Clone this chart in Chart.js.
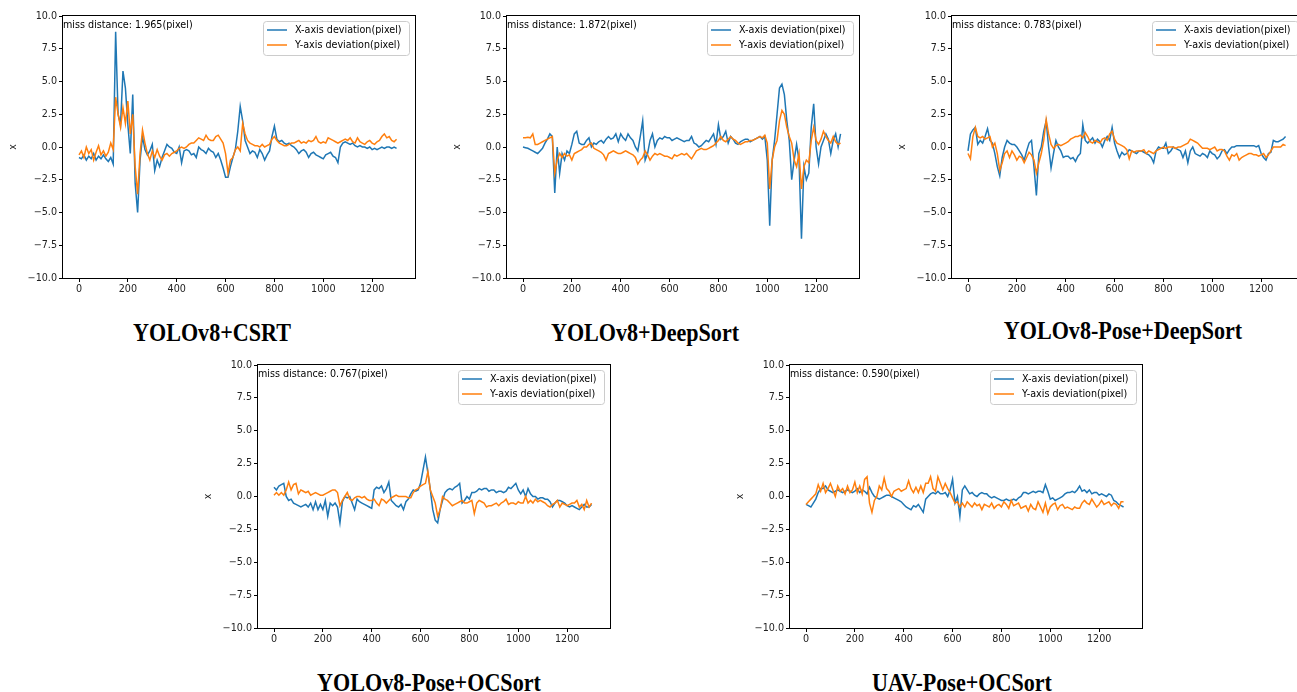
<!DOCTYPE html>
<html lang="en">
<head>
    <meta charset="UTF-8">
    <title>Deviation plots</title>
    <style>
        body {
            margin: 0;
            width: 1297px;
            height: 692px;
            overflow: hidden;
            position: relative;
            background: #fff;
        }
        canvas {
            position: absolute;
        }
        .caption {
            position: absolute;
            width: 400px;
            text-align: center;
            font-family: 'Liberation Serif', 'Times New Roman', serif;
            font-weight: bold;
            font-size: 26px;
            line-height: 26px;
            color: #000;
            transform: scaleX(0.85);
        }
    </style>
</head>
<body>
    <canvas id="c1"></canvas>
    <canvas id="c2"></canvas>
    <canvas id="c3"></canvas>
    <canvas id="c4"></canvas>
    <canvas id="c5"></canvas>
    <div id="captions"></div>

    <script src="https://cdn.jsdelivr.net/npm/chart.js"></script>
    <script>
        // frame index (x axis), one sample every 10 frames
        const frames = Array.from({ length: 131 }, (_, i) => i * 10);
        const xTicks = [0, 200, 400, 600, 800, 1000, 1200];
        const yTicks = [-10, -7.5, -5, -2.5, 0, 2.5, 5, 7.5, 10];

        const titles = ['YOLOv8+CSRT', 'YOLOv8+DeepSort', 'YOLOv8-Pose+DeepSort', 'YOLOv8-Pose+OCSort', 'UAV-Pose+OCSort'];
        const missDistance = ['1.965', '1.872', '0.783', '0.767', '0.590'];
        const seriesNames = ['X-axis deviation(pixel)', 'Y-axis deviation(pixel)'];

        // YOLOv8+CSRT
        const devX1 = [
            -0.8,-0.9,-0.6,-1.0,-0.7,-0.9,-0.5,-1.0,-0.7,-0.9,
            -0.6,-0.9,-1.1,-0.8,-1.3,8.8,2.5,1.7,5.8,4.5,
            1.7,-0.5,4.0,-2.8,-5.0,-1.0,0.8,-0.2,-0.6,-0.3,
            0.2,-1.8,-1.0,-1.5,-0.8,-0.3,0.2,0.0,-0.1,-0.4,
            -0.5,0.0,-1.2,-0.3,-0.2,-0.3,-0.6,-0.5,-0.8,0.0,
            -0.2,-0.3,-0.5,-0.1,-0.3,-0.4,-0.8,-0.5,-1.0,-1.6,
            -2.3,-2.3,-1.5,-0.8,-0.2,1.2,3.1,2.0,0.5,0.0,
            -0.5,-0.3,-0.4,-0.8,-0.2,-0.5,-1.0,-0.6,-0.3,0.8,
            1.6,0.6,0.4,0.5,0.3,0.2,0.3,0.1,0.0,-0.2,
            -0.5,-0.3,-0.2,-0.4,-0.8,-0.5,-0.4,-0.6,-0.7,-0.8,
            -0.9,-0.6,-0.5,-0.4,-0.7,-0.8,-1.2,0.0,0.3,0.4,
            0.3,0.2,0.3,0.1,0.0,0.1,0.0,0.0,-0.1,0.0,
            -0.2,-0.1,-0.2,-0.1,0.0,-0.1,0.0,0.0,-0.1,0.0,
            -0.1
        ];
        const devY1 = [
            -0.6,-0.3,-0.8,0.0,-0.5,-0.2,-1.0,-0.4,0.1,-0.6,
            -0.3,-0.7,-0.4,0.3,-0.2,3.8,2.5,1.5,3.0,1.8,
            3.5,1.0,2.5,-1.5,-3.6,-0.5,1.3,0.3,-0.5,-1.0,
            -0.3,-0.8,-0.2,-0.7,-1.0,-0.6,-0.5,-0.7,-0.5,-0.4,
            -0.3,-0.1,0.0,-0.1,0.0,0.2,0.3,0.3,0.5,0.7,
            0.6,0.5,0.9,0.6,0.5,0.5,0.8,0.9,0.6,0.3,
            -0.5,-2.0,-1.0,-0.8,-0.2,0.0,-0.3,1.8,1.0,0.5,
            0.3,0.2,0.1,0.1,0.0,0.2,0.0,0.1,0.2,0.6,
            0.8,0.5,0.3,0.2,0.1,0.1,0.2,0.3,0.3,0.4,
            0.5,0.3,0.4,0.3,0.5,0.4,0.5,0.8,0.4,0.3,
            0.4,0.3,0.7,0.6,0.5,0.4,0.3,0.4,0.5,0.6,
            0.5,0.7,0.4,0.3,0.7,0.4,0.3,0.2,0.4,0.5,
            0.3,0.2,0.4,0.5,0.8,1.0,0.7,0.8,0.5,0.4,
            0.6
        ];

        // YOLOv8+DeepSort
        const devX2 = [
            0.0,-0.05,-0.1,-0.2,-0.3,-0.4,-0.5,-0.3,-0.1,0.3,
            0.6,1.0,0.8,-3.5,0.0,-2.0,-0.5,-1.0,-0.3,-0.5,
            0.2,1.0,1.2,0.3,0.2,0.2,0.5,0.7,0.0,0.3,
            0.2,0.4,0.5,0.3,0.6,0.8,0.6,0.7,1.0,0.4,
            1.0,0.7,0.5,1.0,0.7,0.5,0.0,-0.3,0.8,2.0,
            -1.0,-0.5,0.5,1.0,0.0,0.5,0.7,0.6,0.8,0.7,
            0.7,0.5,0.6,0.7,0.6,0.5,0.4,0.5,0.5,0.8,
            0.3,0.2,0.0,0.1,0.3,0.5,0.4,0.7,1.0,0.2,
            1.7,0.6,0.8,1.2,0.3,0.8,0.6,0.3,0.2,0.4,
            0.5,0.6,0.6,0.4,0.5,0.6,0.7,0.8,0.6,0.8,
            -1.0,-6.0,-1.0,0.5,2.5,4.5,4.8,4.0,2.0,0.5,
            -2.5,-1.0,0.2,-1.0,-7.0,-1.5,-2.5,-2.0,1.5,3.3,
            0.0,-1.3,0.0,0.5,1.0,0.6,-0.5,0.5,1.0,0.0,
            1.0
        ];
        const devY2 = [
            0.7,0.7,0.75,0.7,1.0,0.2,0.2,0.3,0.4,0.5,
            0.6,0.7,0.8,-2.0,-1.0,-0.5,-0.8,-0.5,-0.7,-0.6,
            -1.0,-0.5,-0.4,-0.3,-0.2,0.0,0.0,0.2,0.3,-0.1,
            -0.2,-0.3,-0.4,-0.6,-1.0,-0.5,-0.4,-0.3,-0.4,-0.5,
            -0.5,-0.4,-0.3,-0.4,-0.5,-0.6,-0.8,-1.3,-1.0,-0.8,
            -0.3,-0.6,-1.0,-0.7,-0.5,-0.6,-0.5,-0.6,-0.7,-0.7,
            -0.8,-0.9,-0.6,-0.7,-0.6,-0.5,-0.6,-0.5,-0.7,-0.9,
            -0.6,-0.3,-0.2,-0.1,-0.2,-0.2,-0.1,0.0,0.1,0.3,
            0.5,0.8,0.5,0.4,0.6,0.8,0.6,0.5,0.3,0.2,
            0.3,0.4,0.4,0.5,0.5,0.6,0.7,0.8,0.7,0.9,
            0.3,-3.2,-1.0,0.0,0.5,2.0,2.8,2.5,1.5,0.8,
            0.3,-1.0,-1.5,-0.5,-3.2,-1.5,-1.0,-1.2,0.5,1.5,
            0.5,0.2,0.6,1.2,0.8,0.5,0.3,0.8,0.4,0.2,
            0.3
        ];

        // YOLOv8-Pose+DeepSort
        const devX3 = [
            -0.3,1.0,1.3,1.5,0.2,0.5,0.3,0.8,1.4,0.5,
            0.3,-0.5,-1.5,-2.2,-0.8,0.0,0.5,0.3,0.2,0.2,
            0.0,-0.3,-0.6,-1.0,-0.3,0.3,0.5,-1.5,-3.7,-0.5,
            0.0,1.2,2.0,0.0,-1.6,-0.5,0.5,0.0,-0.3,-0.8,
            -0.7,-0.7,-0.9,-0.8,-1.1,-0.7,-0.5,1.7,0.5,0.3,
            0.5,0.7,0.3,0.6,0.4,0.0,0.5,0.8,0.5,1.5,
            0.3,-0.3,-0.8,-0.4,-0.6,-0.5,-0.2,-0.3,-0.4,-0.5,
            -0.3,-0.3,-0.4,-0.5,-0.6,-0.8,-1.2,-0.3,0.0,-0.1,
            -0.1,0.3,-0.5,-0.3,0.0,-0.1,-0.2,-0.3,-0.8,-0.3,
            -1.2,-0.3,0.0,-0.5,-0.6,-0.7,-0.5,-0.6,-0.8,-0.3,
            -0.5,-0.6,-0.9,-0.7,-0.3,-0.2,-0.5,-0.2,0.0,0.0,
            0.1,0.1,0.1,0.1,0.1,0.1,0.1,0.1,0.0,0.1,
            -0.5,-0.8,-1.0,-0.5,-0.4,0.5,0.4,0.4,0.5,0.6,
            0.8
        ];
        const devY3 = [
            -0.5,-0.9,0.8,1.5,0.8,0.7,0.8,0.6,0.7,0.8,
            0.0,0.3,-0.5,-1.8,-1.2,-0.5,-0.3,-0.8,-0.3,-0.6,
            -1.0,-0.7,-0.8,-1.2,-0.8,-0.4,-0.6,-1.0,-2.0,-1.2,
            -0.5,0.5,2.1,1.0,0.2,-0.1,0.1,0.2,0.1,0.2,
            0.3,0.4,0.6,0.7,0.8,0.8,0.9,0.7,1.1,0.8,
            0.4,0.3,0.5,0.4,0.3,0.6,0.7,0.5,1.0,1.2,
            0.6,0.3,0.2,0.1,0.0,-0.2,-0.9,-0.3,-0.4,-0.3,
            -0.3,-0.3,-0.2,-0.5,-0.3,-0.4,-0.5,-0.3,-0.2,-0.1,
            0.0,-0.1,0.0,0.0,0.0,-0.1,0.0,0.0,0.1,0.2,
            0.3,0.6,0.5,0.4,0.3,0.1,-0.1,-0.1,-0.1,-0.2,
            -0.1,0.0,-0.3,-0.2,-0.2,-0.3,-0.7,-1.0,-0.6,-0.7,
            -0.5,-1.0,-0.8,-0.7,-0.6,-0.5,-0.5,-0.6,-0.6,-0.7,
            -0.6,-0.5,-0.8,-0.6,-0.3,0.0,0.0,0.0,0.0,0.2,
            0.1
        ];

        // YOLOv8-Pose+OCSort
        const devX4 = [
            0.7,0.5,0.8,0.9,1.0,0.0,-0.3,-0.2,-0.5,-0.6,
            -0.7,-0.8,-0.7,-0.6,-0.8,-0.5,-1.0,-0.4,-1.0,-0.6,
            -1.0,-0.3,-1.5,-0.5,-0.7,-0.5,-0.8,-2.0,-0.4,0.0,
            -0.1,0.0,-0.5,-1.0,-0.2,-0.4,-0.5,-0.6,-0.7,-0.8,
            -0.9,0.5,0.7,0.6,0.8,0.3,0.6,1.1,-0.3,-0.5,
            -0.7,-0.8,-0.6,-1.0,-0.4,-0.2,0.2,0.5,0.4,0.5,
            1.0,2.0,3.0,1.8,0.5,-1.0,-1.8,-2.0,-1.0,-0.3,
            0.3,0.5,0.6,0.5,0.7,0.8,1.0,-0.5,-0.3,0.0,
            -0.2,0.3,0.3,0.4,0.6,0.5,0.6,0.6,0.4,0.5,
            0.5,0.3,0.4,0.4,0.3,0.4,0.7,0.6,0.8,1.0,
            0.5,0.2,0.5,0.0,0.6,0.2,0.0,0.0,-0.2,-0.1,
            -0.1,-0.2,-0.2,-0.4,-0.8,-0.5,-0.3,-0.3,-0.4,-0.5,
            -0.7,-0.8,-0.7,-0.8,-0.9,-1.0,-0.8,-0.6,-0.8,-0.8,
            -0.6
        ];
        const devY4 = [
            0.1,0.3,0.1,0.3,0.1,0.5,1.1,0.5,0.9,1.0,
            0.2,0.5,0.4,0.3,0.4,0.1,0.2,0.3,0.2,0.1,
            0.1,0.2,0.3,0.4,0.5,0.5,0.3,-0.7,-0.3,0.0,
            0.3,-0.2,-0.3,-0.1,0.0,0.0,-0.1,0.0,-0.2,-0.3,
            -0.3,-0.2,-0.5,-0.7,-0.2,-0.3,-0.5,-0.3,-0.1,0.0,
            0.1,0.0,0.0,0.0,0.0,-0.1,-0.1,0.3,0.5,0.6,
            0.8,0.9,1.0,1.9,0.5,0.0,-0.5,-1.5,-1.0,0.0,
            -0.2,-0.3,-0.5,-0.7,-0.6,-0.5,-0.4,-0.3,-0.5,-0.5,
            -0.4,-0.3,-1.3,-0.5,-0.3,-0.4,-0.5,-0.8,-0.7,-0.7,
            -0.6,-0.5,-0.7,-0.5,-0.4,-0.2,-0.6,-0.5,-0.5,-0.6,
            -0.4,-0.5,-0.5,0.0,-0.5,-0.3,-0.5,-0.2,-0.4,-0.3,
            -0.4,-0.5,-0.7,-0.8,-0.6,-0.5,-0.3,-0.8,-0.5,-0.6,
            -0.7,-0.6,-0.5,-0.5,-0.3,-0.8,-0.6,-1.0,-0.3,-0.8,
            -0.5
        ];

        // UAV-Pose+OCSort
        const devX5 = [
            -0.6,-0.7,-0.8,-0.5,-0.2,0.3,0.6,0.6,0.8,0.5,
            0.4,0.3,0.4,0.5,0.4,0.3,0.4,0.5,0.4,0.3,
            0.4,0.6,0.3,0.5,0.4,0.2,0.7,0.3,0.0,-0.1,
            -0.2,-0.1,0.0,0.1,0.1,0.0,-0.1,-0.2,-0.3,-0.4,
            -0.6,-0.8,-0.9,-1.0,-0.7,-0.8,-0.6,-0.9,-1.2,-0.2,
            0.0,0.2,0.3,0.2,0.4,0.2,0.2,0.3,0.0,0.5,
            1.3,-0.5,0.0,-1.5,0.5,0.8,0.5,0.2,0.3,0.1,
            0.0,0.2,0.3,0.2,0.2,0.0,-0.1,0.0,-0.1,-0.2,
            -0.3,-0.3,-0.2,-0.3,-0.3,-0.2,-0.3,-0.1,0.0,0.3,
            0.3,0.2,0.3,0.4,0.3,0.4,0.4,0.3,0.9,0.4,
            -0.2,-0.1,-0.3,-0.2,-0.1,0.0,0.2,0.3,0.3,0.4,
            0.3,0.5,0.8,0.4,0.5,0.3,0.5,0.2,0.3,0.3,
            0.1,0.2,0.1,0.0,0.2,0.1,-0.3,-0.4,-0.6,-0.7,
            -0.8
        ];
        const devY5 = [
            -0.6,-0.4,-0.2,0.0,0.2,0.9,0.4,1.0,0.3,0.6,
            1.0,0.5,0.0,0.8,0.4,0.6,0.2,0.8,0.3,0.5,
            1.1,0.3,0.8,0.2,1.3,1.5,-0.5,-1.2,-0.3,0.0,
            0.8,0.5,1.4,0.6,0.4,0.0,0.4,0.5,0.6,0.4,
            0.5,0.6,1.2,0.6,0.3,0.7,0.3,0.8,0.3,1.0,
            1.0,1.5,0.6,0.4,1.5,1.0,0.5,1.0,0.6,0.3,
            -0.1,-0.5,-0.4,-0.8,-0.5,-0.8,-0.4,-0.6,-0.8,-0.5,
            -0.7,-0.6,-1.0,-0.6,-0.7,-0.8,-0.5,-0.9,-0.7,-0.6,
            -0.8,-0.4,-0.6,-0.9,-0.3,-0.7,-0.6,-0.5,-0.9,-0.8,
            -0.7,-1.1,-0.6,-0.9,-1.0,-0.4,-0.8,-1.2,-0.5,-1.3,
            -0.8,-0.6,-0.5,-1.0,-0.7,-0.6,-0.9,-0.8,-0.9,-1.0,
            -0.8,-0.9,-0.9,-0.5,-0.3,-0.5,-0.6,-0.2,-0.5,-0.8,
            -0.6,-0.3,-0.6,-0.5,-0.4,-0.7,-0.5,-0.6,-0.9,-0.4,
            -0.4
        ];

        const devX = [devX1, devX2, devX3, devX4, devX5];
        const devY = [devY1, devY2, devY3, devY4, devY5];

        // where each axes box sits on the page (left, top, height of plot area) and its caption centre
        const panels = [
            { id: 'c1', left: 63, top: 16, h: 262, cx: 212, cy: 333 },
            { id: 'c2', left: 507, top: 16, h: 262, cx: 645, cy: 333 },
            { id: 'c3', left: 952, top: 16, h: 262, cx: 1123, cy: 331 },
            { id: 'c4', left: 258, top: 365, h: 263, cx: 429, cy: 683 },
            { id: 'c5', left: 790, top: 365, h: 263, cx: 962, cy: 683 }
        ];
        const Y_AXIS_W = 55, PAD_TOP = 10, PAD_RIGHT = 12, X_AXIS_H = 28, PLOT_W = 352;
        const BLUE = '#1f77b4', ORANGE = '#ff7f0e';
        const FONT = 'DejaVu Sans';

        // spines, the "miss distance" note and a matplotlib-like legend box
        const axesDecor = {
            id: 'axesDecor',
            afterDraw(chart, args, opts) {
                const { ctx, chartArea: a } = chart;
                ctx.save();
                ctx.strokeStyle = '#000';
                ctx.lineWidth = 1;
                ctx.strokeRect(a.left - 0.5, a.top - 0.5, a.right - a.left + 1, a.bottom - a.top + 1);

                ctx.font = '9.6px ' + FONT;
                ctx.fillStyle = '#000';
                ctx.textBaseline = 'middle';
                ctx.textAlign = 'left';
                ctx.fillText('miss distance: ' + opts.miss + '(pixel)', a.left, a.top + 9);

                const bw = 146, bh = 34;
                const bx = a.right - 6 - bw, by = a.top + 5;
                ctx.beginPath();
                ctx.roundRect(bx + 0.5, by + 0.5, bw, bh, 3);
                ctx.fillStyle = 'rgba(255,255,255,0.8)';
                ctx.fill();
                ctx.strokeStyle = '#cccccc';
                ctx.stroke();
                [BLUE, ORANGE].forEach((col, i) => {
                    const ry = by + 9 + i * 15;
                    ctx.strokeStyle = col;
                    ctx.lineWidth = 1.5;
                    ctx.beginPath();
                    ctx.moveTo(bx + 4, ry);
                    ctx.lineTo(bx + 24, ry);
                    ctx.stroke();
                    ctx.fillStyle = '#000';
                    ctx.fillText(seriesNames[i], bx + 32, ry);
                });
                ctx.restore();
            }
        };

        const tickFont = { family: FONT, size: 9.6 };

        panels.forEach((p, k) => {
            const canvas = document.getElementById(p.id);
            canvas.width = Y_AXIS_W + PLOT_W + PAD_RIGHT;
            canvas.height = PAD_TOP + p.h + X_AXIS_H;
            canvas.style.left = (p.left - Y_AXIS_W) + 'px';
            canvas.style.top = (p.top - PAD_TOP) + 'px';

            new Chart(canvas.getContext('2d'), {
                type: 'line',
                data: {
                    datasets: [
                        {
                            label: seriesNames[0],
                            data: frames.map((f, i) => ({ x: f, y: devX[k][i] })),
                            borderColor: BLUE,
                            borderWidth: 1.5,
                            pointRadius: 0,
                            tension: 0,
                            order: 1
                        },
                        {
                            label: seriesNames[1],
                            data: frames.map((f, i) => ({ x: f, y: devY[k][i] })),
                            borderColor: ORANGE,
                            borderWidth: 1.5,
                            pointRadius: 0,
                            tension: 0,
                            order: 0
                        }
                    ]
                },
                options: {
                    responsive: false,
                    animation: false,
                    layout: { padding: { top: PAD_TOP, right: PAD_RIGHT, left: 0, bottom: 0 } },
                    plugins: {
                        legend: { display: false },
                        tooltip: { enabled: false },
                        axesDecor: { miss: missDistance[k] }
                    },
                    scales: {
                        x: {
                            type: 'linear',
                            min: -65.5,
                            max: 1375.5,
                            afterBuildTicks: s => { s.ticks = xTicks.map(v => ({ value: v })); },
                            afterFit: s => { s.height = X_AXIS_H; },
                            border: { display: false },
                            grid: { drawOnChartArea: false, color: '#000', tickLength: 4 },
                            ticks: {
                                color: '#222', font: tickFont, padding: 2,
                                maxRotation: 0, autoSkip: false,
                                callback: v => String(v)
                            }
                        },
                        y: {
                            min: -10,
                            max: 10,
                            afterBuildTicks: s => { s.ticks = yTicks.map(v => ({ value: v })); },
                            afterFit: s => { s.width = Y_AXIS_W; },
                            border: { display: false },
                            grid: { drawOnChartArea: false, color: '#000', tickLength: 4 },
                            ticks: {
                                color: '#222', font: tickFont, padding: 2, autoSkip: false,
                                callback: v => (v < 0 ? '\u2212' : '') + Math.abs(v).toFixed(1)
                            },
                            title: { display: true, text: 'x', color: '#222', font: { family: FONT, size: 9.6 }, padding: 0 }
                        }
                    }
                },
                plugins: [axesDecor]
            });

            const cap = document.createElement('div');
            cap.className = 'caption';
            cap.textContent = titles[k];
            cap.style.left = (p.cx - 200) + 'px';
            cap.style.top = (p.cy - 13) + 'px';
            document.getElementById('captions').appendChild(cap);
        });
    </script>
</body>
</html>
